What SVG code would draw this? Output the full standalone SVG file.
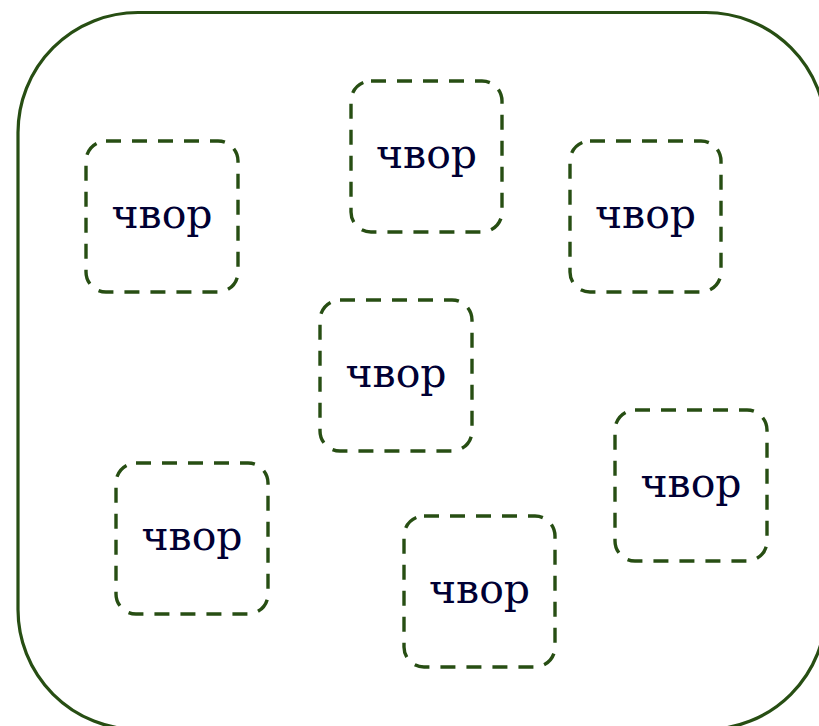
<svg xmlns="http://www.w3.org/2000/svg" width="819" height="726" viewBox="0 0 819 726">
<style>
.outer{fill:none;stroke:#274e13;stroke-width:3.2}
.node rect{fill:#ffffff;stroke:#274e13;stroke-width:3.4;stroke-dasharray:15 11}
.node text{font-family:"DejaVu Serif",serif;font-size:41px;fill:#000033;text-anchor:middle}
</style>
<rect width="819" height="726" fill="#ffffff"/>
<rect class="outer" x="18" y="12.5" width="808" height="717" rx="120" ry="120"/>
<g id="n1" class="node"><rect x="86" y="141" width="152" height="151" rx="20"/><text x="162" y="228">чвор</text></g>
<g id="n2" class="node"><rect x="351" y="81" width="151" height="151" rx="20"/><text x="426.5" y="168">чвор</text></g>
<g id="n3" class="node"><rect x="570" y="141" width="151" height="151" rx="20"/><text x="645.5" y="228">чвор</text></g>
<g id="n4" class="node"><rect x="320" y="300" width="152" height="151" rx="20"/><text x="396" y="387">чвор</text></g>
<g id="n5" class="node"><rect x="615" y="410" width="152" height="151" rx="20"/><text x="691" y="497">чвор</text></g>
<g id="n6" class="node"><rect x="116" y="463" width="152" height="151" rx="20"/><text x="192" y="550">чвор</text></g>
<g id="n7" class="node"><rect x="404" y="516" width="151" height="151" rx="20"/><text x="479.5" y="603">чвор</text></g>
<g id="connectors"></g>
</svg>
